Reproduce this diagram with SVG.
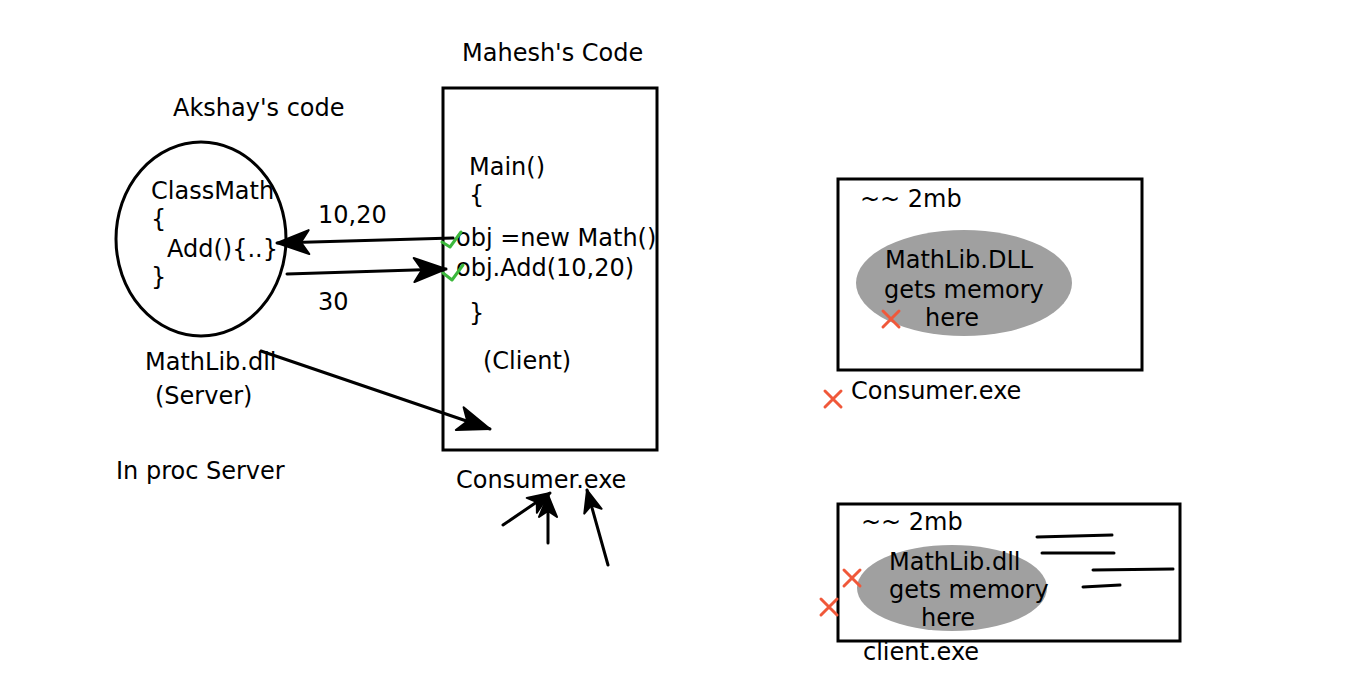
<svg xmlns="http://www.w3.org/2000/svg" width="1366" height="697" viewBox="0 0 1366 697">
<style>
text{font-family:"DejaVu Sans","Verdana",sans-serif;font-size:24px;fill:#000}
.sh{fill:none;stroke:#000;stroke-width:3}
.ln{fill:none;stroke:#000;stroke-width:3;stroke-linecap:round}
.ck{fill:none;stroke:#3cb83c;stroke-width:3;stroke-linecap:round;stroke-linejoin:round}
.xm{fill:none;stroke:#f0583a;stroke-width:3;stroke-linecap:round}
.gr{fill:#a0a0a0}
</style>
<defs>
<marker id="ah" markerUnits="userSpaceOnUse" viewBox="-36 -16 38 32" refX="0" refY="0" markerWidth="38" markerHeight="32" orient="auto">
<path d="M-32,-12 L0,0 L-32,12 L-24,0 Z" fill="#000" stroke="#000" stroke-width="2" stroke-linejoin="round"/>
</marker>
<marker id="ahs" markerUnits="userSpaceOnUse" viewBox="-26 -12 28 24" refX="0" refY="0" markerWidth="28" markerHeight="24" orient="auto">
<path d="M-22,-9 L0,0 L-22,9 L-16,0 Z" fill="#000" stroke="#000" stroke-width="2" stroke-linejoin="round"/>
</marker>
</defs>
<rect width="1366" height="697" fill="#fff"/>

<g id="server">
<ellipse class="sh" cx="201" cy="239" rx="85" ry="97"/>
<text x="173" y="116">Akshay's code</text>
<text x="151" y="199">ClassMath</text>
<text x="151" y="227">{</text>
<text x="167" y="257">Add(){..}</text>
<text x="151" y="285">}</text>
<text x="145" y="370">MathLib.dll</text>
<text x="155" y="404">(Server)</text>
<text x="116" y="479">In proc Server</text>
</g>

<g id="client">
<rect class="sh" x="443" y="88" width="214" height="362"/>
<text x="462" y="61">Mahesh's Code</text>
<text x="469" y="175">Main()</text>
<text x="469" y="203">{</text>
<text x="456" y="246">obj =new Math()</text>
<text x="456" y="276">obj.Add(10,20)</text>
<text x="469" y="321">}</text>
<text x="483" y="369">(Client)</text>
<text x="456" y="488">Consumer.exe</text>
<path class="ck" d="M442,242 L450,247 L461,232"/>
<path class="ck" d="M443,273 L452,280 L463,265"/>
</g>

<g id="labels">
<text x="318" y="223">10,20</text>
<text x="318" y="310">30</text>
</g>

<g id="connectors">
<line class="ln" x1="453" y1="238" x2="277" y2="243" marker-end="url(#ah)"/>
<line class="ln" x1="287" y1="274" x2="446" y2="269" marker-end="url(#ah)"/>
<line class="ln" x1="261" y1="351" x2="490" y2="429" marker-end="url(#ah)"/>
<line class="ln" x1="503" y1="525" x2="550" y2="493" marker-end="url(#ahs)"/>
<line class="ln" x1="548" y1="543" x2="548" y2="495" marker-end="url(#ahs)"/>
<line class="ln" x1="608" y1="565" x2="587" y2="490" marker-end="url(#ahs)"/>
</g>

<g id="consumer-box">
<rect class="sh" x="838" y="179" width="304" height="191"/>
<text x="860" y="207">~~ 2mb</text>
<ellipse class="gr" cx="964" cy="283" rx="108" ry="53"/>
<text x="885" y="268">MathLib.DLL</text>
<text x="884" y="298">gets memory</text>
<text x="925" y="326">here</text>
<path class="xm" d="M883,311 L899,327 M899,311 L883,327"/>
<text x="851" y="399">Consumer.exe</text>
<path class="xm" d="M825,391 L841,407 M841,391 L825,407"/>
</g>

<g id="client-box">
<rect class="sh" x="838" y="504" width="342" height="137"/>
<text x="861" y="530">~~ 2mb</text>
<ellipse class="gr" cx="952" cy="588" rx="95" ry="43"/>
<text x="889" y="570">MathLib.dll</text>
<text x="889" y="598">gets memory</text>
<text x="921" y="626">here</text>
<path class="xm" d="M844,570 L860,586 M860,570 L844,586"/>
<path class="xm" d="M821,599 L837,615 M837,599 L821,615"/>
<text x="863" y="660">client.exe</text>
<line class="ln" x1="1037" y1="537" x2="1112" y2="535"/>
<line class="ln" x1="1042" y1="553" x2="1114" y2="553"/>
<line class="ln" x1="1093" y1="570" x2="1173" y2="569"/>
<line class="ln" x1="1083" y1="587" x2="1120" y2="585"/>
</g>
</svg>
